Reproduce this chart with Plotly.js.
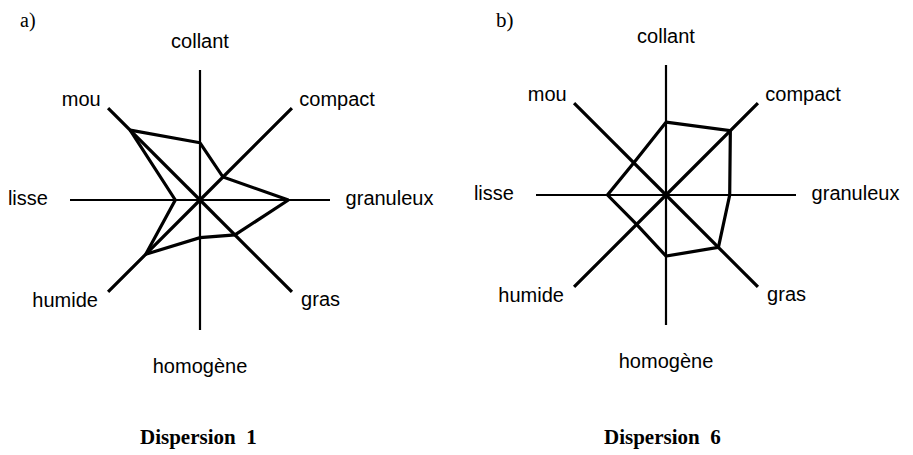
<!DOCTYPE html>
<html>
<head>
<meta charset="utf-8">
<script src="https://cdn.plot.ly/plotly-3.0.1.min.js"></script>
<style>html,body{margin:0;padding:0;background:#fff;}#chart{width:913px;height:455px;}</style>
</head>
<body>
<div id="chart"></div>
<script>
// Attributes (clockwise from top)
const attributes = ['collant', 'compact', 'granuleux', 'gras', 'homogène', 'humide', 'lisse', 'mou'];
// Dispersion 1 profile (fraction of axis length)
const dispersion1 = [0.44, 0.25, 0.68, 0.38, 0.29, 0.59, 0.19, 0.76];
// Dispersion 6 profile
const dispersion6 = [0.56, 0.70, 0.49, 0.57, 0.47, 0.32, 0.45, 0.35];
const panelTitles = ['Dispersion  1', 'Dispersion  6'];
const panelLetters = ['a)', 'b)'];

// ---- styling / placement (not data) ----
const axisMax = 1;      // length of each spoke (axis scale)
const rangeMax = 1.3;
const labelRadii = [1.13, 1.08, 1.12, 1.10, 1.215, 1.11, 1.17, 1.08];
const labelPositions = ['top center', 'middle right', 'middle right', 'middle right',
                        'bottom center', 'middle left', 'middle left', 'middle left'];

const close = arr => arr.concat([arr[0]]);
const n = attributes.length;

function panelTraces(subplot, values) {
  const t = [];
  // spokes: each attribute axis drawn from its end through the centre to the opposite end
  for (let i = 0; i < n / 2; i++) {
    const diag = i % 2 === 1;
    t.push({type: 'scatterpolar', subplot: subplot,
      r: [axisMax, 0, axisMax], theta: [attributes[i], attributes[i], attributes[i + n / 2]],
      mode: 'lines', line: {color: '#000', width: diag ? 3.2 : 2.2},
      hoverinfo: 'skip', showlegend: false});
  }
  // profile polygon
  t.push({type: 'scatterpolar', subplot: subplot, r: close(values), theta: close(attributes),
    mode: 'lines', line: {color: '#000', width: 3.2}, hoverinfo: 'skip', showlegend: false});
  // attribute names
  t.push({type: 'scatterpolar', subplot: subplot, r: labelRadii, theta: attributes,
    mode: 'text', text: attributes, textposition: labelPositions, cliponaxis: false,
    textfont: {family: 'Liberation Sans, Arial, sans-serif', size: 20, color: '#000'},
    hoverinfo: 'skip', showlegend: false});
  return t;
}

const traces = panelTraces('polar', dispersion1).concat(panelTraces('polar2', dispersion6));

function polarCfg(domain) {
  return {
    domain: domain,
    bgcolor: 'rgba(0,0,0,0)',
    radialaxis: {visible: false, range: [0, rangeMax], showgrid: false, showline: false},
    angularaxis: {
      type: 'category', categoryarray: attributes, categoryorder: 'array',
      rotation: 90, direction: 'clockwise',
      showline: false, showgrid: false, showticklabels: false, ticks: ''
    }
  };
}

const W = 913, H = 455;
const half = 130 * rangeMax;
function dom(cx, cy) {
  return {x: [(cx - half) / W, (cx + half) / W], y: [(H - cy - half) / H, (H - cy + half) / H]};
}
const serif = 'Liberation Serif, Times New Roman, serif';
const layout = {
  width: W, height: H,
  margin: {l: 0, r: 0, t: 0, b: 0},
  paper_bgcolor: '#fff',
  showlegend: false,
  polar: polarCfg(dom(200, 200)),
  polar2: polarCfg(dom(666, 195)),
  annotations: [
    {text: panelLetters[0], xref: 'paper', yref: 'paper', x: 18 / W, y: 1 - 7 / H, xanchor: 'left', yanchor: 'top',
     showarrow: false, font: {family: serif, size: 20, color: '#000'}},
    {text: panelLetters[1], xref: 'paper', yref: 'paper', x: 494 / W, y: 1 - 6 / H, xanchor: 'left', yanchor: 'top',
     showarrow: false, font: {family: serif, size: 21, color: '#000'}},
    {text: '<b>' + panelTitles[0] + '</b>', xref: 'paper', yref: 'paper', x: 198 / W, y: 1 - 437 / H, xanchor: 'center', yanchor: 'middle',
     showarrow: false, font: {family: serif, size: 21, color: '#000'}},
    {text: '<b>' + panelTitles[1] + '</b>', xref: 'paper', yref: 'paper', x: 662 / W, y: 1 - 437 / H, xanchor: 'center', yanchor: 'middle',
     showarrow: false, font: {family: serif, size: 21, color: '#000'}}
  ]
};

Plotly.newPlot('chart', traces, layout, {displayModeBar: false, staticPlot: true});
</script>
</body>
</html>
